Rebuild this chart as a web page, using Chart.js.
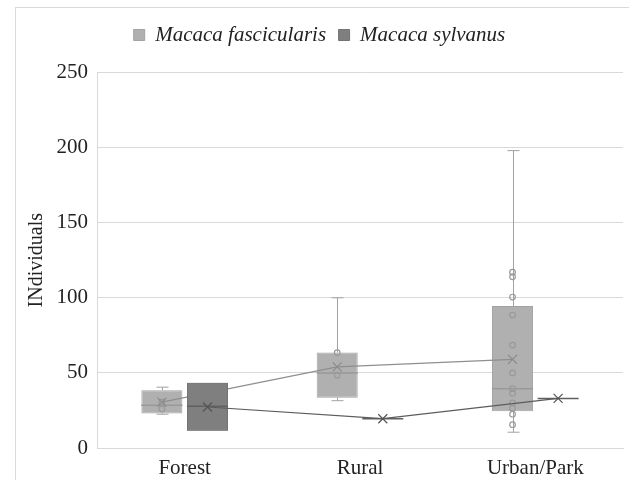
<!DOCTYPE html>
<html>
<head>
<meta charset="utf-8">
<script src="https://cdn.jsdelivr.net/npm/chart.js@4.4.0/dist/chart.umd.min.js"></script>
<style>
    body { margin: 0; background: #fff; }
    #wrap {
        position: absolute; left: 15px; top: 7px;
        width: 613px; height: 472px;
        border-left: 1px solid #d9d9d9; border-top: 1px solid #d9d9d9;
    }
</style>
</head>
<body>
<div id="wrap"><canvas id="boxChart"></canvas></div>
<script>
// Valeurs
const categories = ['Forest', 'Rural', 'Urban/Park'];

const fascMin = [22.5, 31.5, 10.5];
const fascQ1 = [23, 33.5, 24.5];
const fascMedian = [28.5, 50, 39.5];
const fascQ3 = [38.5, 63.5, 94.5];
const fascMax = [40.5, 100, 198];
const fascMean = [30.5, 54, 59];
const fascPoints = [
    [30.5, 26],
    [63.5, 48.5],
    [117, 114, 100.5, 88.5, 68.5, 50, 39.5, 36.5, 30, 26.5, 22.5, 15.5]
];

const sylvMin = [11.5, 19.5, 33];
const sylvQ1 = [11.5, 19.5, 33];
const sylvMedian = [27.8, 19.5, 33];
const sylvQ3 = [43.5, 19.5, 33];
const sylvMax = [43.5, 19.5, 33];
const sylvMean = [27.3, 19.5, 33];
const sylvPoints = [[], [], []];

const yTicks = [0, 50, 100, 150, 200, 250];

const series = [
    {
        label: 'Macaca fascicularis', min: fascMin, q1: fascQ1, median: fascMedian,
        q3: fascQ3, max: fascMax, mean: fascMean, points: fascPoints,
        fill: '#b0b0b0', border: '#a2a2a2', medianColor: '#999999',
        lineColor: '#8e8e8e', markColor: '#8a8a8a', pointColor: '#999999'
    },
    {
        label: 'Macaca sylvanus', min: sylvMin, q1: sylvQ1, median: sylvMedian,
        q3: sylvQ3, max: sylvMax, mean: sylvMean, points: sylvPoints,
        fill: '#7f7f7f', border: '#747474', medianColor: '#616161',
        lineColor: '#5c5c5c', markColor: '#555555', pointColor: '#666666'
    }
];

const serif = "'Liberation Serif', 'DejaVu Serif', serif";

function drawSeries(chart, index, s) {
    const ctx = chart.ctx;
    const y = chart.scales.y;
    const meta = chart.getDatasetMeta(index);
    const bars = meta.data;
    ctx.save();

    // moustaches
    ctx.strokeStyle = s.border;
    ctx.lineWidth = 1;
    bars.forEach((bar, i) => {
        const x = Math.round(bar.x) + 0.5;
        [[s.q3[i], s.max[i]], [s.q1[i], s.min[i]]].forEach(([from, to]) => {
            if (from === to) return;
            const y0 = y.getPixelForValue(from);
            const y1 = y.getPixelForValue(to);
            ctx.beginPath();
            ctx.moveTo(x, y0);
            ctx.lineTo(x, y1);
            ctx.moveTo(x - 6, y1);
            ctx.lineTo(x + 6, y1);
            ctx.stroke();
        });
    });

    // médiane
    ctx.strokeStyle = s.medianColor;
    ctx.lineWidth = 1.5;
    bars.forEach((bar, i) => {
        const ym = y.getPixelForValue(s.median[i]);
        ctx.beginPath();
        ctx.moveTo(bar.x - bar.width / 2, ym);
        ctx.lineTo(bar.x + bar.width / 2, ym);
        ctx.stroke();
    });

    // points
    ctx.strokeStyle = s.pointColor;
    ctx.lineWidth = 1.2;
    bars.forEach((bar, i) => {
        s.points[i].forEach(v => {
            ctx.beginPath();
            ctx.arc(bar.x, y.getPixelForValue(v), 2.8, 0, Math.PI * 2);
            ctx.stroke();
        });
    });

    // ligne des moyennes
    ctx.strokeStyle = s.lineColor;
    ctx.lineWidth = 1.2;
    ctx.beginPath();
    bars.forEach((bar, i) => {
        const ym = y.getPixelForValue(s.mean[i]);
        if (i === 0) ctx.moveTo(bar.x, ym);
        else ctx.lineTo(bar.x, ym);
    });
    ctx.stroke();

    // marqueurs X des moyennes
    ctx.strokeStyle = s.markColor;
    ctx.lineWidth = 1.2;
    bars.forEach((bar, i) => {
        const ym = y.getPixelForValue(s.mean[i]);
        const r = 4.5;
        ctx.beginPath();
        ctx.moveTo(bar.x - r, ym - r);
        ctx.lineTo(bar.x + r, ym + r);
        ctx.moveTo(bar.x - r, ym + r);
        ctx.lineTo(bar.x + r, ym - r);
        ctx.stroke();
    });
    ctx.restore();
}

const boxExtras = {
    id: 'boxExtras',
    afterInit(chart) {
        // un peu plus d'espace sous la légende
        const fit = chart.legend.fit;
        chart.legend.fit = function () {
            fit.call(this);
            this.height += 17;
        };
    },
    afterDatasetsDraw(chart) {
        drawSeries(chart, 0, series[0]);
        // la boîte de sylvanus passe au-dessus de la ligne de fascicularis
        chart.getDatasetMeta(1).controller.draw();
        drawSeries(chart, 1, series[1]);
    }
};

new Chart(document.getElementById('boxChart'), {
    type: 'bar',
    data: {
        labels: categories,
        datasets: series.map(s => ({
            label: s.label,
            data: s.q1.map((v, i) => [v, s.q3[i]]),
            backgroundColor: s.fill,
            borderColor: s.border,
            borderWidth: 1,
            borderSkipped: false,
            categoryPercentage: 0.52,
            barPercentage: 0.9
        }))
    },
    options: {
        responsive: true,
        maintainAspectRatio: false,
        animation: false,
        layout: { padding: { top: 4, right: 6, left: 0, bottom: 0 } },
        plugins: {
            legend: {
                position: 'top',
                labels: {
                    font: { family: serif, size: 21, style: 'italic' },
                    color: '#222',
                    boxWidth: 11,
                    boxHeight: 11,
                    padding: 12.5
                }
            },
            tooltip: { enabled: false }
        },
        scales: {
            x: {
                grid: { display: false, drawTicks: false },
                border: { display: true, color: '#d9d9d9' },
                ticks: { font: { family: serif, size: 21 }, color: '#222', padding: 8 },
                afterFit: (scale) => { scale.height = 32; }
            },
            y: {
                min: 0,
                max: 250,
                afterBuildTicks: (scale) => { scale.ticks = yTicks.map(v => ({ value: v })); },
                grid: { color: '#d9d9d9', drawTicks: false },
                border: { display: true, color: '#d9d9d9' },
                ticks: { font: { family: serif, size: 21 }, color: '#222', padding: 9 },
                title: {
                    display: true,
                    text: 'INdividuals',
                    font: { family: serif, size: 20 },
                    color: '#222',
                    padding: { top: 9, bottom: 0 }
                },
                afterFit: (scale) => { scale.width = 81; }
            }
        }
    },
    plugins: [boxExtras]
});
</script>
</body>
</html>
